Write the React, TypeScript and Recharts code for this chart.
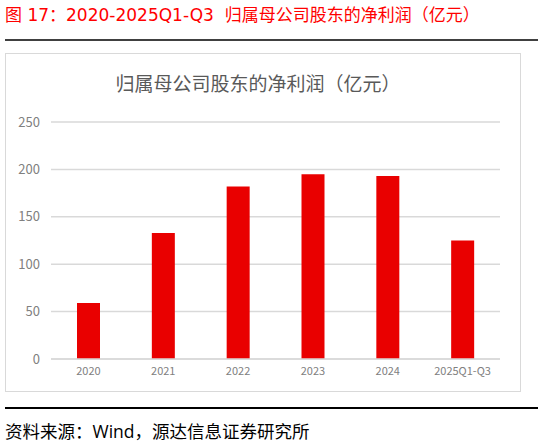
import { BarChart, Bar, XAxis, YAxis, CartesianGrid } from "recharts";

const years = ["2020", "2021", "2022", "2023", "2024", "2025Q1-Q3"];
const netProfit = [59, 133, 182, 195, 193, 125];
const yTicks = [0, 50, 100, 150, 200, 250];

const data = years.map((year, i) => ({ year, value: netProfit[i] }));

const CJK = '"Noto Sans CJK SC", "Noto Sans", sans-serif';

export default function App() {
  return (
    <div
      style={{
        position: "absolute",
        left: 0,
        top: 0,
        width: 538,
        height: 446,
        background: "#fff",
        fontFamily: CJK,
        overflow: "hidden",
      }}
    >
      {/* figure title */}
      <div
        style={{
          position: "absolute",
          left: 5,
          top: 2,
          fontSize: 17,
          color: "#ff0000",
          whiteSpace: "pre",
          lineHeight: "26px",
          fontFamily: '"DejaVu Sans", ' + CJK,
        }}
      >
        图 17：2020-2025Q1-Q3  归属母公司股东的净利润（亿元）
      </div>
      <div style={{ position: "absolute", left: 5, top: 39, width: 533, height: 1.5, background: "#404040" }} />

      {/* chart frame */}
      <div
        style={{
          position: "absolute",
          left: 5,
          top: 53,
          width: 514,
          height: 337,
          border: "1.5px solid #d9d9d9",
        }}
      />
      <div
        style={{
          position: "absolute",
          left: 0,
          width: 516,
          top: 70,
          textAlign: "center",
          fontSize: 19,
          color: "#595959",
          lineHeight: "26px",
        }}
      >
        归属母公司股东的净利润（亿元）
      </div>

      <div style={{ position: "absolute", left: 0, top: 0 }}>
        <BarChart
          width={538}
          height={446}
          data={data}
          margin={{ top: 122, right: 38, bottom: 0, left: 0 }}
          barCategoryGap={0}
        >
          <CartesianGrid vertical={false} stroke="#d9d9d9" strokeWidth={1.5} />
          <XAxis
            dataKey="year"
            height={87}
            tickLine={false}
            axisLine={{ stroke: "#d9d9d9", strokeWidth: 1.5 }}
            tick={{ fontSize: 11, fill: "#808080", fontFamily: CJK }}
            tickMargin={2}
            interval={0}
          />
          <YAxis
            width={51}
            domain={[0, 250]}
            ticks={yTicks}
            tickLine={false}
            axisLine={false}
            tick={{ fontSize: 13, fill: "#808080", fontFamily: CJK }}
            tickMargin={5}
          />
          <Bar dataKey="value" fill="#e90000" barSize={23} isAnimationActive={false} />
        </BarChart>
      </div>

      {/* source */}
      <div style={{ position: "absolute", left: 5, top: 407, width: 533, height: 1.5, background: "#000" }} />
      <div
        style={{
          position: "absolute",
          left: 5,
          top: 418,
          fontSize: 17.5,
          color: "#000",
          whiteSpace: "nowrap",
          lineHeight: "27px",
          fontFamily: '"Open Sans", ' + CJK,
        }}
      >
        资料来源：Wind，源达信息证券研究所
      </div>
    </div>
  );
}
